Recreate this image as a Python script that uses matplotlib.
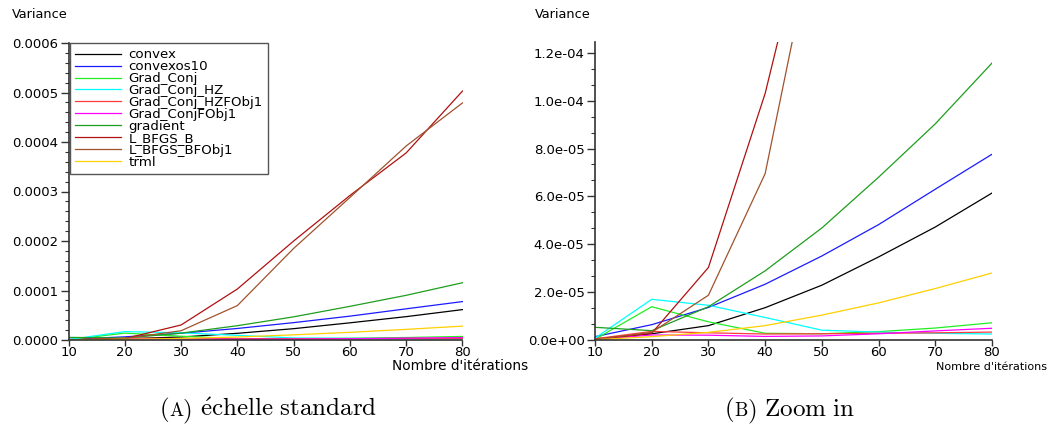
import matplotlib
matplotlib.use("Agg")
import matplotlib.pyplot as plt
from matplotlib.ticker import MultipleLocator, FormatStrFormatter
from matplotlib.offsetbox import TextArea, HPacker, AnnotationBbox

plt.rcParams["mathtext.fontset"] = "cm"

# Iteration counts
iterations = [10, 20, 30, 40, 50, 60, 70, 80]

# Variance per method
convex = [0.5e-6, 2.6e-6, 6.0e-6, 1.35e-5, 2.29e-5, 3.47e-5, 4.72e-5, 6.14e-5]
convexos10 = [1.4e-6, 6.4e-6, 1.36e-5, 2.33e-5, 3.51e-5, 4.82e-5, 6.3e-5, 7.76e-5]
grad_conj = [0.3e-6, 1.39e-5, 7.6e-6, 2.8e-6, 2.6e-6, 3.5e-6, 5.0e-6, 7.2e-6]
grad_conj_hz = [0.8e-6, 1.7e-5, 1.45e-5, 9.4e-6, 4.1e-6, 3.3e-6, 2.8e-6, 2.5e-6]
grad_conj_hzfobj1 = [0.5e-6, 3.6e-6, 3.0e-6, 2.5e-6, 2.6e-6, 2.8e-6, 3.0e-6, 3.3e-6]
grad_conjfobj1 = [0.2e-6, 2.1e-6, 2.0e-6, 1.5e-6, 1.7e-6, 2.6e-6, 3.8e-6, 4.9e-6]
gradient = [5.3e-6, 3.9e-6, 1.39e-5, 2.89e-5, 4.68e-5, 6.8e-5, 9.03e-5, 1.157e-4]
l_bfgs_b = [0.2e-6, 2.8e-6, 3.03e-5, 1.03e-4, 2.0e-4, 2.92e-4, 3.78e-4, 5.03e-4]
l_bfgs_bfobj1 = [0.2e-6, 3.2e-6, 1.87e-5, 6.95e-5, 1.85e-4, 2.88e-4, 3.92e-4, 4.79e-4]
trml = [0.1e-6, 1.4e-6, 3.2e-6, 6.0e-6, 1.04e-5, 1.55e-5, 2.15e-5, 2.8e-5]

labels = ["convex", "convexos10", "Grad_Conj", "Grad_Conj_HZ", "Grad_Conj_HZFObj1",
          "Grad_ConjFObj1", "gradient", "L_BFGS_B", "L_BFGS_BFObj1", "trml"]
series = [convex, convexos10, grad_conj, grad_conj_hz, grad_conj_hzfobj1,
          grad_conjfobj1, gradient, l_bfgs_b, l_bfgs_bfobj1, trml]
colors = ["#000000", "#1a1aff", "#22ee22", "#00ffff", "#ff3b3b",
          "#ff00ff", "#1e9e1e", "#b01010", "#a0522d", "#ffd000"]

W, H = 1057, 428
fig = plt.figure(figsize=(W / 100, H / 100), dpi=100)

def px_box(x0, y0, x1, y1):
    return [x0 / W, 1 - y1 / H, (x1 - x0) / W, (y1 - y0) / H]

ax1 = fig.add_axes(px_box(68.5, 43, 462.5, 340))
ax2 = fig.add_axes(px_box(595, 42, 992, 340))

spine_col = "#333333"
for ax in (ax1, ax2):
    for lab, ys, c in zip(labels, series, colors):
        ax.plot(iterations, ys, color=c, lw=0.9, label=lab)
    ax.set_xlim(10, 80)
    ax.xaxis.set_major_locator(MultipleLocator(10))
    for s in ("top", "right"):
        ax.spines[s].set_visible(False)
    for s in ("left", "bottom"):
        ax.spines[s].set_color(spine_col)
        ax.spines[s].set_linewidth(1.2)
    ax.tick_params(axis="x", direction="out", length=4, width=1, pad=0.5,
                   labelsize=9.5, color=spine_col)
    ax.tick_params(axis="y", which="major", direction="out", length=6, width=1,
                   pad=1.5, labelsize=9.5, color=spine_col)
    ax.tick_params(axis="y", which="minor", direction="out", length=3, width=0.8,
                   color=spine_col)

ax1.set_ylim(0, 0.0006)
ax1.yaxis.set_major_locator(MultipleLocator(0.0001))
ax1.yaxis.set_minor_locator(MultipleLocator(0.00002))
ax1.yaxis.set_major_formatter(FormatStrFormatter("%.4f"))

ax2.set_ylim(0, 1.245e-4)
ax2.yaxis.set_major_locator(MultipleLocator(2e-5))
ax2.yaxis.set_minor_locator(MultipleLocator(2e-5 / 3))
ax2.yaxis.set_major_formatter(FormatStrFormatter("%.1e"))
ax2.yaxis.get_offset_text().set_visible(False)

leg = ax1.legend(loc="upper left", bbox_to_anchor=(0.004, 1.0), borderaxespad=0,
                 fontsize=9.6, handlelength=3.4, handletextpad=0.6,
                 labelspacing=-0.08, borderpad=0.4, fancybox=False,
                 framealpha=1, edgecolor="#555555")
leg.get_frame().set_linewidth(1.0)

# Axis titles
fig.text(12 / W, 1 - 14 / H, "Variance", fontsize=9.3, ha="left", va="center")
fig.text(535 / W, 1 - 14 / H, "Variance", fontsize=9.3, ha="left", va="center")
fig.text(460 / W, 1 - 366 / H, "Nombre d'itérations", fontsize=9.8,
         ha="center", va="center")
fig.text(991 / W, 1 - 367 / H, "Nombre d'itérations", fontsize=8,
         ha="center", va="center")

# Sub-figure captions with a small-caps letter
serif = ["cmr10", "DejaVu Serif"]

def caption(letter, rest, cx, cy):
    big = dict(fontsize=18, family=serif)
    small = dict(fontsize=13.5, family=serif)
    box = HPacker(children=[TextArea("(", textprops=big),
                            TextArea(letter, textprops=small),
                            TextArea(")", textprops=big),
                            TextArea(rest, textprops=big)],
                  align="baseline", pad=0, sep=0)
    ab = AnnotationBbox(box, (cx / W, 1 - cy / H), xycoords="figure fraction",
                        frameon=False, box_alignment=(0.5, 0.5))
    fig.add_artist(ab)

caption("A", r"$\ \acute{\mathrm{e}}\mathrm{chelle\ standard}$", 268, 410)
caption("B", r"$\ \mathrm{Zoom\ in}$", 790, 410)

fig.savefig("out.png", dpi=100)
